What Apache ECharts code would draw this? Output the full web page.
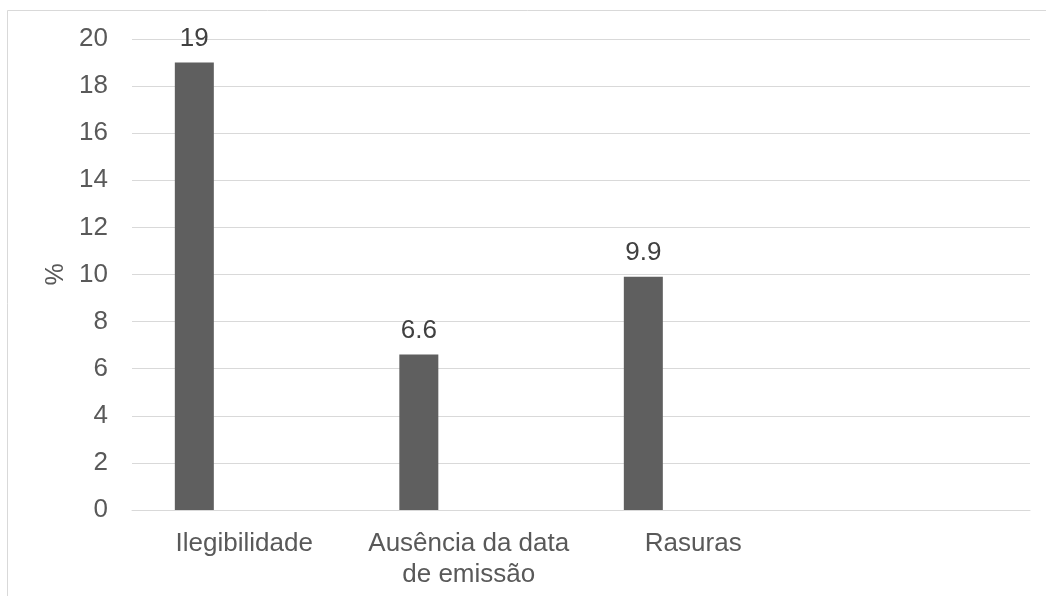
<!DOCTYPE html>
<html>
<head>
<meta charset="utf-8">
<script src="https://cdn.jsdelivr.net/npm/echarts@6/dist/echarts.min.js"></script>
<style>
  html, body { margin: 0; padding: 0; background: #ffffff; }
  #chart { width: 1046px; height: 596px; }
</style>
</head>
<body>
<div id="chart"></div>
<script>
// Categories (the fourth slot is an empty column)
const categories = ['Ilegibilidade', 'Ausência da data\nde emissão', 'Rasuras', ''];
// Percentages per category
const percentValues = [19, 6.6, 9.9, null];
// Empty companion series (keeps bars offset inside their columns)
const emptySeries = [null, null, null, null];
// Y axis ticks
const yMin = 0, yMax = 20, yStep = 2;

const chart = echarts.init(document.getElementById('chart'), null, { renderer: 'canvas' });

const textFont = 'Liberation Sans, Arial, sans-serif';

chart.setOption({
  animation: false,
  backgroundColor: '#ffffff',
  graphic: [{
    type: 'rect',
    shape: { x: 7.5, y: 10.5, width: 1200, height: 800 },
    style: { fill: 'none', stroke: '#d9d9d9', lineWidth: 1 },
    silent: true
  }],
  grid: { left: 132, right: 16, top: 39, bottom: 86, containLabel: false },
  xAxis: {
    type: 'category',
    data: categories,
    axisLine: { show: true, lineStyle: { color: '#d9d9d9', width: 1 } },
    axisTick: { show: false },
    axisLabel: {
      color: '#595959',
      fontFamily: textFont,
      fontSize: 26,
      lineHeight: 31,
      margin: 18,
      interval: 0
    }
  },
  yAxis: {
    type: 'value',
    min: yMin,
    max: yMax,
    interval: yStep,
    name: '%',
    nameLocation: 'middle',
    nameGap: 60,
    nameRotate: 90,
    nameTextStyle: { color: '#595959', fontFamily: textFont, fontSize: 25 },
    axisLine: { show: false },
    axisTick: { show: false },
    splitLine: { lineStyle: { color: '#d9d9d9', width: 1 } },
    axisLabel: {
      color: '#595959',
      fontFamily: textFont,
      fontSize: 26,
      margin: 24
    }
  },
  series: [
    {
      type: 'bar',
      data: percentValues,
      barWidth: 39,
      barGap: '156%',
      itemStyle: { color: '#5f5f5f' },
      label: {
        show: true,
        position: 'top',
        distance: 11,
        color: '#404040',
        fontFamily: textFont,
        fontSize: 26
      }
    },
    {
      type: 'bar',
      data: emptySeries,
      barWidth: 39,
      itemStyle: { color: '#5f5f5f' }
    }
  ]
});
</script>
</body>
</html>
